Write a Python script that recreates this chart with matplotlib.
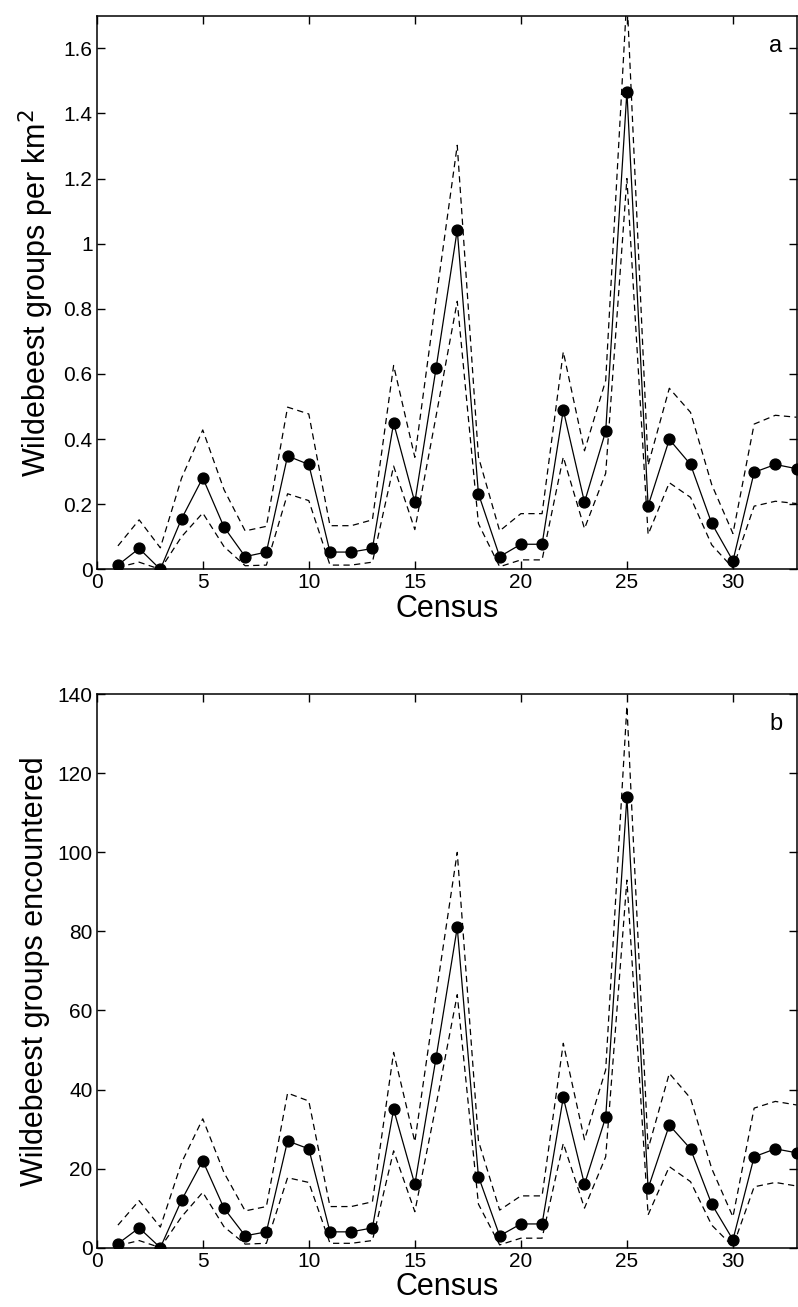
import numpy as np
import matplotlib
matplotlib.use("Agg")
import matplotlib.pyplot as plt

plt.rcParams['font.family'] = ['Liberation Sans', 'DejaVu Sans']

# Census number
census = list(range(1, 34))

# panel a: groups per km2 (mean and bounds)
dens_mean = [0.013, 0.064, 0.0, 0.155, 0.281, 0.130, 0.039, 0.053, 0.348, 0.322,
             0.053, 0.053, 0.064, 0.449, 0.206, 0.617, 1.042, 0.232, 0.039, 0.077,
             0.077, 0.489, 0.206, 0.424, 1.467, 0.195, 0.399, 0.322, 0.141, 0.026,
             0.298, 0.322, 0.309]
dens_upper = [0.072, 0.152, 0.066, 0.28, 0.428, 0.245, 0.118, 0.132, 0.498, 0.477,
              0.134, 0.134, 0.152, 0.626, 0.344, 0.83, 1.302, 0.345, 0.118, 0.171,
              0.171, 0.668, 0.364, 0.58, 1.76, 0.32, 0.556, 0.482, 0.26, 0.11,
              0.446, 0.473, 0.467]
dens_lower = [0.006, 0.022, 0.0, 0.10, 0.173, 0.07, 0.011, 0.013, 0.232, 0.211,
              0.013, 0.013, 0.022, 0.317, 0.122, 0.47, 0.823, 0.14, 0.008, 0.029,
              0.029, 0.345, 0.125, 0.295, 1.2, 0.107, 0.266, 0.221, 0.075, 0.004,
              0.194, 0.209, 0.202]

# panel b: groups encountered
cnt_mean = [1, 5, 0, 12, 22, 10, 3, 4, 27, 25, 4, 4, 5, 35, 16, 48, 81, 18, 3, 6,
            6, 38, 16, 33, 114, 15, 31, 25, 11, 2, 23, 25, 24]
cnt_upper = [5.7, 11.9, 5.2, 21.5, 32.6, 19, 9.3, 10.4, 39.1, 37.1, 10.4, 10.4, 11.6,
             49.4, 26.8, 64, 100, 27, 9.5, 13.1, 13.1, 51.7, 27.3, 45, 137, 25, 44.1,
             37.8, 20, 7.8, 35.3, 37, 36.1]
cnt_lower = [0.5, 1.8, 0, 7.8, 14, 5.3, 0.9, 1.1, 17.7, 16.5, 1.1, 1.1, 1.8, 24.5,
             9.1, 36, 64, 11, 0.7, 2.4, 2.4, 26.4, 10, 23, 93, 8.3, 20.5, 16.7, 5.7,
             0.3, 15.4, 16.5, 15.6]

xticks = [0, 5, 10, 15, 20, 25, 30]
yticks_a = [0, 0.2, 0.4, 0.6, 0.8, 1.0, 1.2, 1.4, 1.6]
yticklabels_a = ['0', '0.2', '0.4', '0.6', '0.8', '1', '1.2', '1.4', '1.6']
yticks_b = [0, 20, 40, 60, 80, 100, 120, 140]

fig = plt.figure(figsize=(7.98, 13.07), dpi=100)
ax1 = fig.add_axes([0.1212, 0.5644, 0.877, 0.4236])
ax2 = fig.add_axes([0.1212, 0.0454, 0.877, 0.4234])

dash = (0, (5, 3.5))


def draw(ax, mean, lo, hi, ylim, yticks, yticklabels, ylabel, letter):
    ax.plot(census, hi, color='black', lw=0.9, linestyle=dash)
    ax.plot(census, lo, color='black', lw=0.9, linestyle=dash)
    ax.plot(census, mean, color='black', lw=0.9, marker='o', markersize=7.8)
    ax.set_xlim(0, 33)
    ax.set_ylim(0, ylim)
    ax.set_xticks(xticks)
    ax.set_yticks(yticks)
    ax.set_yticklabels(yticklabels)
    ax.tick_params(direction='in', top=True, right=True, length=6, width=1,
                   labelsize=15, pad=3)
    for s in ax.spines.values():
        s.set_linewidth(1.1)
    ax.set_xlabel('Census', fontsize=22, labelpad=1)
    ax.set_ylabel(ylabel, fontsize=22, labelpad=5)
    ax.text(0.98, 0.935, letter, transform=ax.transAxes, ha='right',
            va='baseline', fontsize=17)


draw(ax1, dens_mean, dens_lower, dens_upper, 1.7, yticks_a, yticklabels_a,
     'Wildebeest groups per km$^2$', 'a')
draw(ax2, cnt_mean, cnt_lower, cnt_upper, 140, yticks_b,
     [str(v) for v in yticks_b], 'Wildebeest groups encountered', 'b')

fig.savefig('out.png', dpi=100)
